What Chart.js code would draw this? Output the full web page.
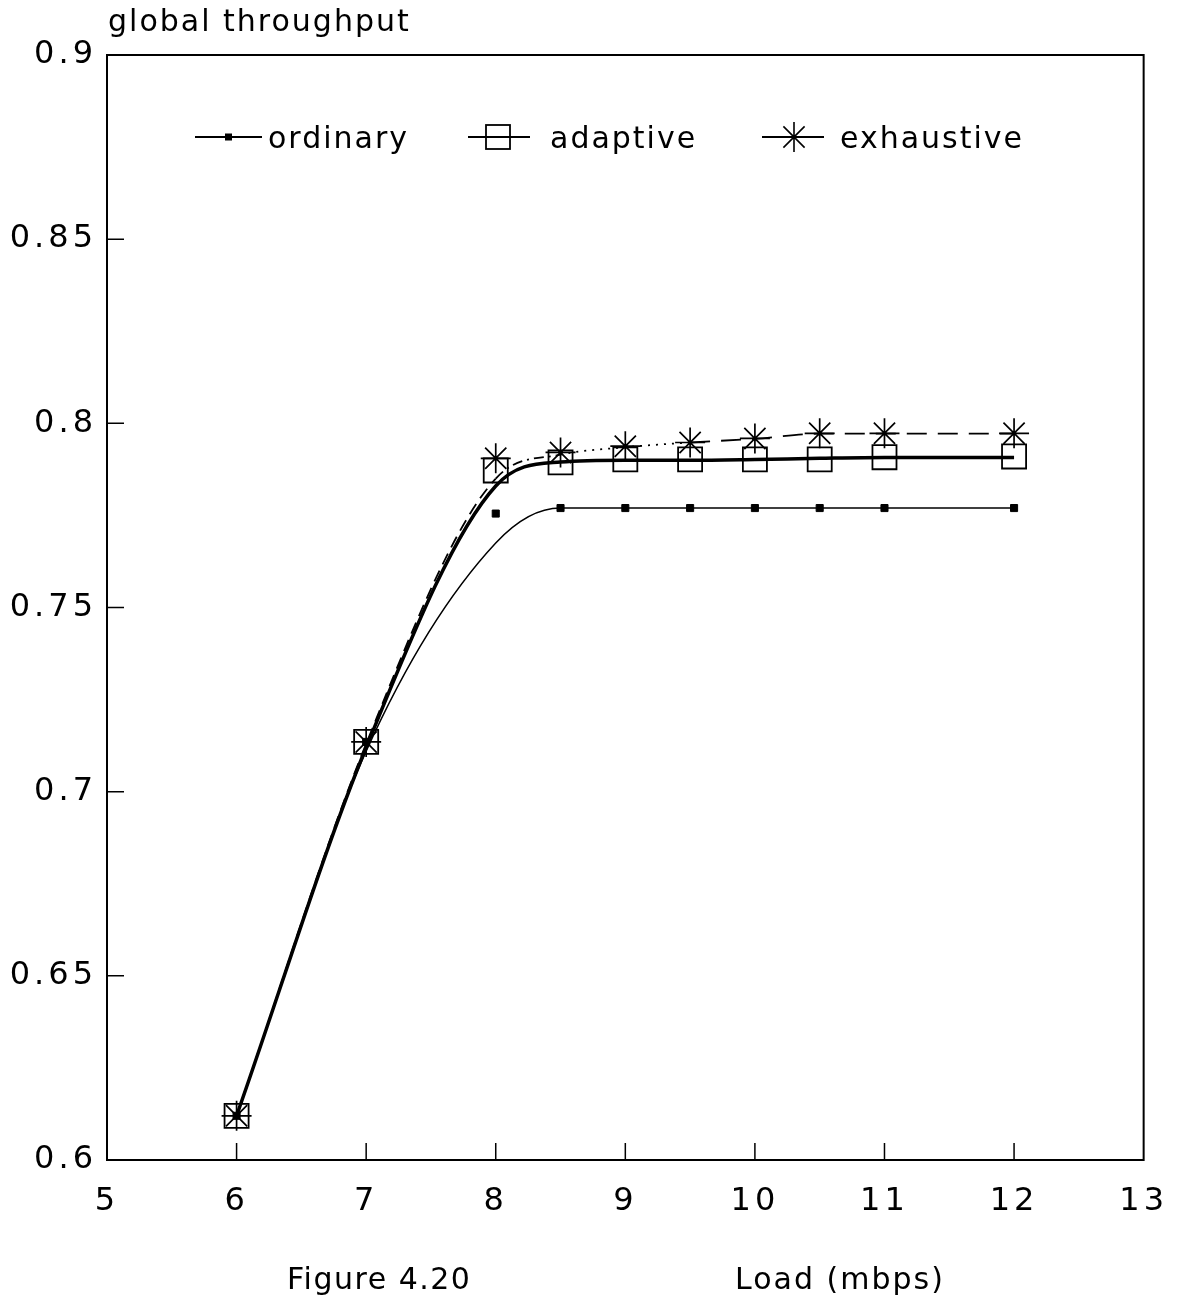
<!DOCTYPE html>
<html>
<head>
<meta charset="utf-8">
<script src="https://cdn.jsdelivr.net/npm/chart.js@4/dist/chart.umd.min.js"></script>
<style>
  html, body { margin: 0; padding: 0; background: #fff; }
  canvas { display: block; }
</style>
</head>
<body>
<canvas id="chart" width="1186" height="1296"></canvas>
<script>
const loads = [6, 7, 8, 8.5, 9, 9.5, 10, 10.5, 11, 12];

// marker positions
const ordinaryPts   = [0.612, 0.7135, 0.7755, 0.777, 0.777, 0.777, 0.777, 0.777, 0.777, 0.777];
const adaptivePts   = [0.612, 0.7135, 0.7872, 0.7894, 0.7902, 0.7902, 0.7902, 0.7902, 0.7908, 0.791];
const exhaustivePts = [0.612, 0.7135, 0.7905, 0.7921, 0.7938, 0.7948, 0.7959, 0.7973, 0.7973, 0.7973];

// fitted curves (read where the lines pass each load)
const ordinaryFit   = [0.612, 0.711, 0.7675, 0.777, 0.777, 0.777, 0.777, 0.777, 0.777, 0.777];
const adaptiveFit   = [0.612, 0.712, 0.783, 0.7895, 0.7900, 0.7900, 0.7902, 0.7905, 0.7907, 0.7907];
const exhaustiveFit = [0.612, 0.713, 0.785, 0.7915, 0.7935, 0.7948, 0.7958, 0.7972, 0.7972, 0.7972];

const xTicks = [5, 6, 7, 8, 9, 10, 11, 12, 13];
const yTicks = [0.6, 0.65, 0.7, 0.75, 0.8, 0.85, 0.9];

const FONT = '"DejaVu Sans", sans-serif';
const pts = arr => loads.map((x, i) => ({ x: x, y: arr[i] }));

const lineDefaults = { pointRadius: 0, fill: false, cubicInterpolationMode: 'monotone', borderColor: '#000' };
const markerDefaults = { showLine: false, borderColor: '#000' };

function dashFor(c) {
  const a = c.p0.parsed.x, b = c.p1.parsed.x;
  if (b <= 8) return [12, 7];
  if (b <= 8.5) return [10, 5, 2, 5];
  if (b <= 9.5) return [2, 6];
  return [20, 11];
}

const frame = {
  id: 'frame',
  beforeDraw(chart) {
    chart.ctx.letterSpacing = '4px';
  },
  afterDraw(chart) {
    const { ctx, chartArea: a, scales: { x, y } } = chart;
    ctx.save();
    ctx.letterSpacing = '0px';
    ctx.strokeStyle = '#000';
    ctx.lineWidth = 2;
    ctx.strokeRect(a.left, a.top, a.right - a.left, a.bottom - a.top);

    // inside ticks
    ctx.beginPath();
    xTicks.slice(1, -1).forEach(v => {
      const px = x.getPixelForValue(v);
      ctx.moveTo(px, a.bottom); ctx.lineTo(px, a.bottom - 17);
    });
    yTicks.slice(1, -1).forEach(v => {
      const py = y.getPixelForValue(v);
      ctx.moveTo(a.left, py); ctx.lineTo(a.left + 17, py);
    });
    ctx.lineWidth = 1.5;
    ctx.stroke();

    // legend
    const ly = 137;
    ctx.lineWidth = 2;
    ctx.beginPath();
    ctx.moveTo(195, ly); ctx.lineTo(262, ly);
    ctx.moveTo(468, ly); ctx.lineTo(530, ly);
    ctx.moveTo(762, ly); ctx.lineTo(824, ly);
    ctx.stroke();
    ctx.fillStyle = '#000';
    ctx.fillRect(225, ly - 3.5, 7, 7);
    ctx.lineWidth = 1.8;
    ctx.strokeRect(486, ly - 12, 24, 24);
    ctx.beginPath();
    for (let k = 0; k < 4; k++) {
      const ang = k * Math.PI / 4;
      ctx.moveTo(794 - 15 * Math.cos(ang), ly - 15 * Math.sin(ang));
      ctx.lineTo(794 + 15 * Math.cos(ang), ly + 15 * Math.sin(ang));
    }
    ctx.lineWidth = 1.6;
    ctx.stroke();

    ctx.font = '30px ' + FONT;
    ctx.letterSpacing = '2px';
    ctx.textBaseline = 'alphabetic';
    ctx.textAlign = 'left';
    ctx.fillText('ordinary', 268, 148);
    ctx.fillText('adaptive', 550, 148);
    ctx.fillText('exhaustive', 840, 148);

    // axis titles
    ctx.fillText('global throughput', 108, 31);
    ctx.letterSpacing = '1.5px';
    ctx.fillText('Figure 4.20', 287, 1289);
    ctx.letterSpacing = '2px';
    ctx.fillText('Load (mbps)', 735, 1289);
    ctx.restore();
  }
};

new Chart(document.getElementById('chart'), {
  type: 'line',
  data: {
    datasets: [
      { ...lineDefaults, label: 'ordinary', data: pts(ordinaryFit), borderWidth: 1.5 },
      { ...lineDefaults, label: 'adaptive', data: pts(adaptiveFit), borderWidth: 3.5 },
      {
        ...lineDefaults, label: 'exhaustive', data: pts(exhaustiveFit), borderWidth: 1.8,
        borderDash: [12, 7],
        segment: { borderDash: dashFor }
      },
      { ...markerDefaults, data: pts(ordinaryPts), pointStyle: 'rect', pointRadius: 5, backgroundColor: '#000', pointBorderWidth: 1 },
      { ...markerDefaults, data: pts(adaptivePts), pointStyle: 'rect', pointRadius: 17, backgroundColor: 'rgba(0,0,0,0)', pointBorderWidth: 1.8 },
      { ...markerDefaults, data: pts(exhaustivePts), pointStyle: 'star', pointRadius: 15, backgroundColor: 'rgba(0,0,0,0)', pointBorderWidth: 1.7 }
    ]
  },
  options: {
    responsive: false,
    animation: false,
    devicePixelRatio: 1,
    layout: { padding: { top: 55, right: 39, left: 0, bottom: 0 } },
    plugins: { legend: { display: false }, tooltip: { enabled: false } },
    scales: {
      x: {
        type: 'linear', min: 5, max: 13,
        afterFit: s => { s.height = 136; },
        afterBuildTicks: s => { s.ticks = xTicks.map(v => ({ value: v })); },
        grid: { display: false, drawTicks: false },
        border: { display: false },
        ticks: { color: '#000', padding: 22, font: { family: FONT, size: 32 }, maxRotation: 0 }
      },
      y: {
        type: 'linear', min: 0.6, max: 0.9,
        afterFit: s => { s.width = 107; },
        afterBuildTicks: s => { s.ticks = yTicks.map(v => ({ value: v })); },
        grid: { display: false, drawTicks: false },
        border: { display: false },
        ticks: { color: '#000', padding: 10, font: { family: FONT, size: 32 },
          callback: v => String(parseFloat(v.toFixed(2))) }
      }
    }
  },
  plugins: [frame]
});
</script>
</body>
</html>
